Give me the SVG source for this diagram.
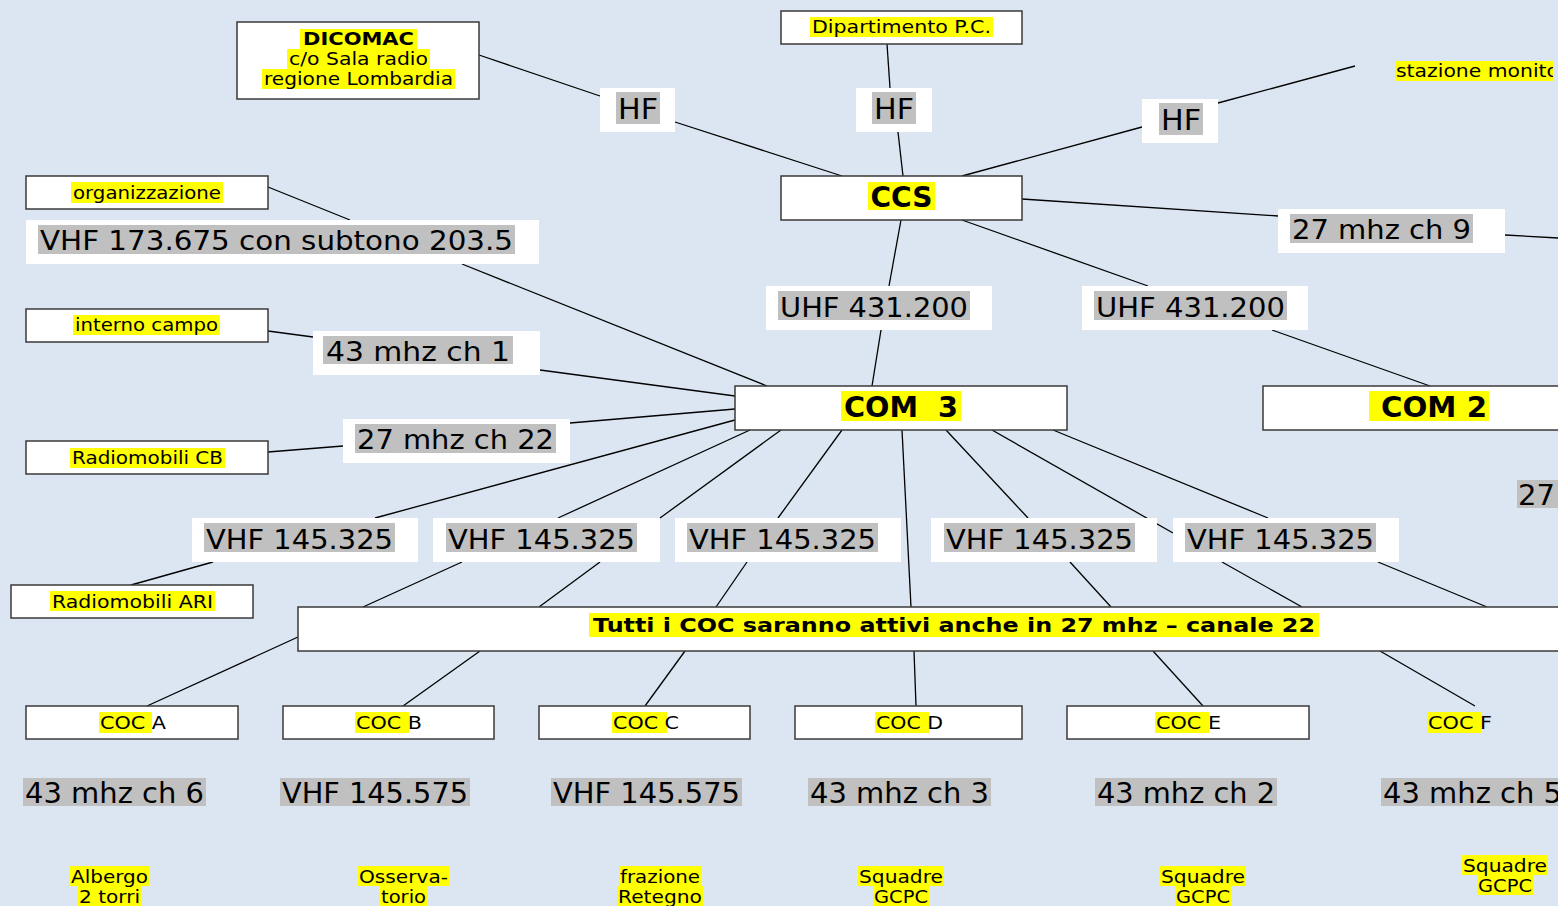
<svg xmlns="http://www.w3.org/2000/svg" width="1558" height="906" viewBox="0 0 1558 906">
<style>
.bg{fill:#dce6f2}
.box{fill:#fff;stroke:#3a3a3a;stroke-width:1.5}
.wb{fill:#fff}
.gy{fill:#c0c0c0}
.yl{fill:#ffff00}
.t{font-family:"DejaVu Sans","Liberation Sans",sans-serif;fill:#000}
.s{font-size:17px}
.n{font-size:18px}
.l{font-size:26px}
.x{font-size:28px}
.b{font-weight:bold}
.m{text-anchor:middle}
#conn line{stroke:#000;stroke-width:1.3}
</style>
<defs>
<clipPath id="clipR"><rect x="0" y="0" width="1553" height="906"/></clipPath>
</defs>
<rect class="bg" x="0" y="0" width="1558" height="906"/>
<g id="conn">
<line x1="479" y1="55" x2="600" y2="96"/>
<line x1="675" y1="122" x2="842" y2="176"/>
<line x1="887" y1="44" x2="890" y2="88"/>
<line x1="898" y1="132" x2="903" y2="176"/>
<line x1="1355" y1="66" x2="1218" y2="103"/>
<line x1="1142" y1="127" x2="962" y2="176"/>
<line x1="1022" y1="199" x2="1278" y2="216"/>
<line x1="1505" y1="235" x2="1558" y2="238"/>
<line x1="901" y1="220" x2="889" y2="286"/>
<line x1="881" y1="330" x2="872" y2="386"/>
<line x1="962" y1="220" x2="1148" y2="286"/>
<line x1="1272" y1="330" x2="1430" y2="386"/>
<line x1="268" y1="187" x2="350" y2="220"/>
<line x1="462" y1="264" x2="767" y2="386"/>
<line x1="268" y1="331" x2="313" y2="337"/>
<line x1="540" y1="370" x2="735" y2="396"/>
<line x1="268" y1="452" x2="343" y2="446"/>
<line x1="570" y1="423" x2="735" y2="409"/>
<line x1="735" y1="420" x2="375" y2="518"/>
<line x1="213" y1="562" x2="131" y2="585"/>
<line x1="750" y1="430" x2="558" y2="518"/>
<line x1="781" y1="430" x2="660" y2="518"/>
<line x1="462" y1="562" x2="363" y2="607"/>
<line x1="600" y1="562" x2="539" y2="607"/>
<line x1="298" y1="637" x2="147" y2="706"/>
<line x1="480" y1="651" x2="403" y2="706"/>
<line x1="842" y1="430" x2="778" y2="518"/>
<line x1="747" y1="562" x2="716" y2="607"/>
<line x1="685" y1="651" x2="645" y2="706"/>
<line x1="902" y1="430" x2="911" y2="607"/>
<line x1="914" y1="651" x2="916" y2="706"/>
<line x1="946" y1="430" x2="1028" y2="518"/>
<line x1="1070" y1="562" x2="1111" y2="607"/>
<line x1="1153" y1="651" x2="1203" y2="706"/>
<line x1="992" y1="430" x2="1173" y2="533"/>
<line x1="1222" y1="562" x2="1302" y2="607"/>
<line x1="1053" y1="430" x2="1268" y2="518"/>
<line x1="1378" y1="562" x2="1487" y2="607"/>
<line x1="1380" y1="651" x2="1475" y2="706"/>
</g>

<g id="dicomac">
<rect class="box" x="237" y="22" width="242" height="77"/>
<rect class="yl" x="300" y="29" width="117" height="20"/>
<rect class="yl" x="287" y="49" width="143" height="20"/>
<rect class="yl" x="262" y="69" width="193" height="20"/>
<text class="t s b m" x="358.5" y="45" textLength="111" lengthAdjust="spacingAndGlyphs">DICOMAC</text>
<text class="t s m" x="358.5" y="65" textLength="139" lengthAdjust="spacingAndGlyphs">c/o Sala radio</text>
<text class="t s m" x="358.5" y="85" textLength="189" lengthAdjust="spacingAndGlyphs">regione Lombardia</text>
</g>

<g id="dipartimento">
<rect class="box" x="781" y="11" width="241" height="33"/>
<rect class="yl" x="810" y="17" width="183" height="20"/>
<text class="t s m" x="901.5" y="33" textLength="179" lengthAdjust="spacingAndGlyphs">Dipartimento P.C.</text>
</g>

<g id="stazione" clip-path="url(#clipR)">
<rect class="yl" x="1395" y="61" width="160" height="20"/>
<text class="t s" x="1396" y="77" textLength="163" lengthAdjust="spacingAndGlyphs">stazione monito</text>
</g>

<g id="hf1">
<rect class="wb" x="600" y="88" width="75" height="44"/>
<rect class="gy" x="616" y="92" width="44" height="32"/>
<text class="t x m" x="638" y="119" textLength="40" lengthAdjust="spacingAndGlyphs">HF</text>
</g>
<g id="hf2">
<rect class="wb" x="856" y="88" width="76" height="44"/>
<rect class="gy" x="872" y="92" width="44" height="32"/>
<text class="t x m" x="894" y="119" textLength="40" lengthAdjust="spacingAndGlyphs">HF</text>
</g>
<g id="hf3">
<rect class="wb" x="1142" y="99" width="76" height="44"/>
<rect class="gy" x="1159" y="103" width="44" height="32"/>
<text class="t x m" x="1181" y="130" textLength="40" lengthAdjust="spacingAndGlyphs">HF</text>
</g>

<g id="ccs">
<rect class="box" x="781" y="176" width="241" height="44"/>
<rect class="yl" x="868" y="182" width="67" height="28"/>
<text class="t b m" style="font-size:28px" x="901.5" y="207" textLength="62" lengthAdjust="spacingAndGlyphs">CCS</text>
</g>

<g id="lbl27ch9">
<rect class="wb" x="1278" y="209" width="227" height="44"/>
<rect class="gy" x="1290" y="214" width="183" height="29"/>
<text class="t l m" x="1381.5" y="239" textLength="179" lengthAdjust="spacingAndGlyphs">27 mhz ch 9</text>
</g>

<g id="organizzazione">
<rect class="box" x="26" y="176" width="242" height="33"/>
<rect class="yl" x="71" y="182" width="152" height="21"/>
<text class="t s m" x="147" y="199" textLength="148" lengthAdjust="spacingAndGlyphs">organizzazione</text>
</g>
<g id="lblvhf173">
<rect class="wb" x="26" y="220" width="513" height="44"/>
<rect class="gy" x="38" y="225" width="477" height="29"/>
<text class="t l m" x="276.5" y="250" textLength="473" lengthAdjust="spacingAndGlyphs">VHF 173.675 con subtono 203.5</text>
</g>

<g id="internocampo">
<rect class="box" x="26" y="309" width="242" height="33"/>
<rect class="yl" x="73" y="315" width="147" height="20"/>
<text class="t s m" x="146.5" y="331" textLength="143" lengthAdjust="spacingAndGlyphs">interno campo</text>
</g>
<g id="lbl43ch1">
<rect class="wb" x="313" y="331" width="227" height="44"/>
<rect class="gy" x="323" y="336" width="190" height="28"/>
<text class="t l m" x="418" y="361" textLength="184" lengthAdjust="spacingAndGlyphs">43 mhz ch 1</text>
</g>

<g id="radiomobilicb">
<rect class="box" x="26" y="441" width="242" height="33"/>
<rect class="yl" x="70" y="448" width="155" height="20"/>
<text class="t s m" x="147.5" y="464" textLength="151" lengthAdjust="spacingAndGlyphs">Radiomobili CB</text>
</g>
<g id="lbl27ch22">
<rect class="wb" x="343" y="419" width="227" height="44"/>
<rect class="gy" x="355" y="424" width="201" height="29"/>
<text class="t l m" x="455.5" y="449" textLength="197" lengthAdjust="spacingAndGlyphs">27 mhz ch 22</text>
</g>

<g id="uhf1">
<rect class="wb" x="766" y="286" width="226" height="44"/>
<rect class="gy" x="778" y="291" width="192" height="29"/>
<text class="t l m" x="874" y="317" textLength="188" lengthAdjust="spacingAndGlyphs">UHF 431.200</text>
</g>
<g id="uhf2">
<rect class="wb" x="1082" y="286" width="226" height="44"/>
<rect class="gy" x="1094" y="291" width="193" height="29"/>
<text class="t l m" x="1190.5" y="317" textLength="189" lengthAdjust="spacingAndGlyphs">UHF 431.200</text>
</g>

<g id="com3">
<rect class="box" x="735" y="386" width="332" height="44"/>
<rect class="yl" x="841" y="391" width="120" height="30"/>
<text class="t b m" style="font-size:28px" x="901" y="417" textLength="114" lengthAdjust="spacingAndGlyphs" xml:space="preserve">COM  3</text>
</g>
<g id="com2">
<rect class="box" x="1263" y="386" width="300" height="44"/>
<rect class="yl" x="1369" y="391" width="120" height="30"/>
<text class="t b" style="font-size:28px" x="1381" y="417" textLength="106" lengthAdjust="spacingAndGlyphs">COM 2</text>
</g>
<g id="lbl27r">
<rect class="gy" x="1517" y="480" width="41" height="28"/>
<text class="t x" x="1518" y="505" textLength="37" lengthAdjust="spacingAndGlyphs">27</text>
</g>

<g id="vhf1">
<rect class="wb" x="192" y="518" width="226" height="44"/>
<rect class="gy" x="204" y="523" width="191" height="29"/>
<text class="t l m" x="299.5" y="549" textLength="187" lengthAdjust="spacingAndGlyphs">VHF 145.325</text>
</g>
<g id="vhf2">
<rect class="wb" x="433" y="518" width="227" height="44"/>
<rect class="gy" x="446" y="523" width="191" height="29"/>
<text class="t l m" x="541.5" y="549" textLength="187" lengthAdjust="spacingAndGlyphs">VHF 145.325</text>
</g>
<g id="vhf3">
<rect class="wb" x="675" y="518" width="226" height="44"/>
<rect class="gy" x="687" y="523" width="191" height="29"/>
<text class="t l m" x="782.5" y="549" textLength="187" lengthAdjust="spacingAndGlyphs">VHF 145.325</text>
</g>
<g id="vhf4">
<rect class="wb" x="931" y="518" width="226" height="44"/>
<rect class="gy" x="944" y="523" width="191" height="29"/>
<text class="t l m" x="1039.5" y="549" textLength="187" lengthAdjust="spacingAndGlyphs">VHF 145.325</text>
</g>
<g id="vhf5">
<rect class="wb" x="1173" y="518" width="226" height="44"/>
<rect class="gy" x="1185" y="523" width="191" height="29"/>
<text class="t l m" x="1280.5" y="549" textLength="187" lengthAdjust="spacingAndGlyphs">VHF 145.325</text>
</g>

<g id="radiomobiliari">
<rect class="box" x="11" y="585" width="242" height="33"/>
<rect class="yl" x="50" y="591" width="165" height="20"/>
<text class="t n m" x="132.5" y="608" textLength="161" lengthAdjust="spacingAndGlyphs">Radiomobili ARI</text>
</g>

<g id="tutti">
<rect class="box" x="298" y="607" width="1265" height="44"/>
<rect class="yl" x="589" y="613" width="730" height="24"/>
<text class="t b m" style="font-size:20px" x="954" y="632" textLength="722" lengthAdjust="spacingAndGlyphs">Tutti i COC saranno attivi anche in 27 mhz – canale 22</text>
</g>

<g id="cocA">
<rect class="box" x="26" y="706" width="212" height="33"/>
<rect class="yl" x="99" y="712" width="53" height="21"/>
<text class="t n" x="100" y="729" textLength="66" lengthAdjust="spacingAndGlyphs">COC A</text>
</g>
<g id="cocB">
<rect class="box" x="283" y="706" width="211" height="33"/>
<rect class="yl" x="355" y="712" width="54" height="21"/>
<text class="t n" x="356" y="729" textLength="66" lengthAdjust="spacingAndGlyphs">COC B</text>
</g>
<g id="cocC">
<rect class="box" x="539" y="706" width="211" height="33"/>
<rect class="yl" x="612" y="712" width="55" height="21"/>
<text class="t n" x="613" y="729" textLength="66" lengthAdjust="spacingAndGlyphs">COC C</text>
</g>
<g id="cocD">
<rect class="box" x="795" y="706" width="227" height="33"/>
<rect class="yl" x="875" y="712" width="54" height="21"/>
<text class="t n" x="876" y="729" textLength="67" lengthAdjust="spacingAndGlyphs">COC D</text>
</g>
<g id="cocE">
<rect class="box" x="1067" y="706" width="242" height="33"/>
<rect class="yl" x="1155" y="712" width="54" height="21"/>
<text class="t n" x="1156" y="729" textLength="65" lengthAdjust="spacingAndGlyphs">COC E</text>
</g>
<g id="cocF">
<rect class="yl" x="1427" y="712" width="54" height="21"/>
<text class="t n" x="1428" y="729" textLength="64" lengthAdjust="spacingAndGlyphs">COC F</text>
</g>

<g id="freqA">
<rect class="gy" x="23" y="778" width="183" height="28"/>
<text class="t x m" x="114.5" y="803" textLength="179" lengthAdjust="spacingAndGlyphs">43 mhz ch 6</text>
</g>
<g id="freqB">
<rect class="gy" x="280" y="778" width="190" height="28"/>
<text class="t x m" x="375" y="803" textLength="186" lengthAdjust="spacingAndGlyphs">VHF 145.575</text>
</g>
<g id="freqC">
<rect class="gy" x="551" y="778" width="191" height="28"/>
<text class="t x m" x="646.5" y="803" textLength="187" lengthAdjust="spacingAndGlyphs">VHF 145.575</text>
</g>
<g id="freqD">
<rect class="gy" x="808" y="778" width="183" height="28"/>
<text class="t x m" x="899.5" y="803" textLength="179" lengthAdjust="spacingAndGlyphs">43 mhz ch 3</text>
</g>
<g id="freqE">
<rect class="gy" x="1095" y="778" width="182" height="28"/>
<text class="t x m" x="1186" y="803" textLength="178" lengthAdjust="spacingAndGlyphs">43 mhz ch 2</text>
</g>
<g id="freqF">
<rect class="gy" x="1381" y="778" width="190" height="28"/>
<text class="t x" x="1383" y="803" textLength="179" lengthAdjust="spacingAndGlyphs">43 mhz ch 5</text>
</g>

<g id="locA">
<rect class="yl" x="70" y="866" width="79" height="20"/>
<rect class="yl" x="78" y="886" width="63" height="20"/>
<text class="t n m" x="109.5" y="883" textLength="77" lengthAdjust="spacingAndGlyphs">Albergo</text>
<text class="t n m" x="109.5" y="903" textLength="61" lengthAdjust="spacingAndGlyphs">2 torri</text>
</g>
<g id="locB">
<rect class="yl" x="358" y="866" width="91" height="20"/>
<rect class="yl" x="380" y="886" width="47" height="20"/>
<text class="t n m" x="403.5" y="883" textLength="89" lengthAdjust="spacingAndGlyphs">Osserva-</text>
<text class="t n m" x="403.5" y="903" textLength="45" lengthAdjust="spacingAndGlyphs">torio</text>
</g>
<g id="locC">
<rect class="yl" x="619" y="866" width="82" height="20"/>
<rect class="yl" x="617" y="886" width="86" height="20"/>
<text class="t n m" x="660" y="883" textLength="80" lengthAdjust="spacingAndGlyphs">frazione</text>
<text class="t n m" x="660" y="903" textLength="84" lengthAdjust="spacingAndGlyphs">Retegno</text>
</g>
<g id="locD">
<rect class="yl" x="858" y="866" width="86" height="20"/>
<rect class="yl" x="873" y="886" width="56" height="20"/>
<text class="t n m" x="901" y="883" textLength="84" lengthAdjust="spacingAndGlyphs">Squadre</text>
<text class="t n m" x="901" y="903" textLength="54" lengthAdjust="spacingAndGlyphs">GCPC</text>
</g>
<g id="locE">
<rect class="yl" x="1160" y="866" width="86" height="20"/>
<rect class="yl" x="1175" y="886" width="56" height="20"/>
<text class="t n m" x="1203" y="883" textLength="84" lengthAdjust="spacingAndGlyphs">Squadre</text>
<text class="t n m" x="1203" y="903" textLength="54" lengthAdjust="spacingAndGlyphs">GCPC</text>
</g>
<g id="locF">
<rect class="yl" x="1462" y="855" width="86" height="20"/>
<rect class="yl" x="1477" y="875" width="56" height="20"/>
<text class="t n m" x="1505" y="872" textLength="84" lengthAdjust="spacingAndGlyphs">Squadre</text>
<text class="t n m" x="1505" y="892" textLength="54" lengthAdjust="spacingAndGlyphs">GCPC</text>
</g>
</svg>
